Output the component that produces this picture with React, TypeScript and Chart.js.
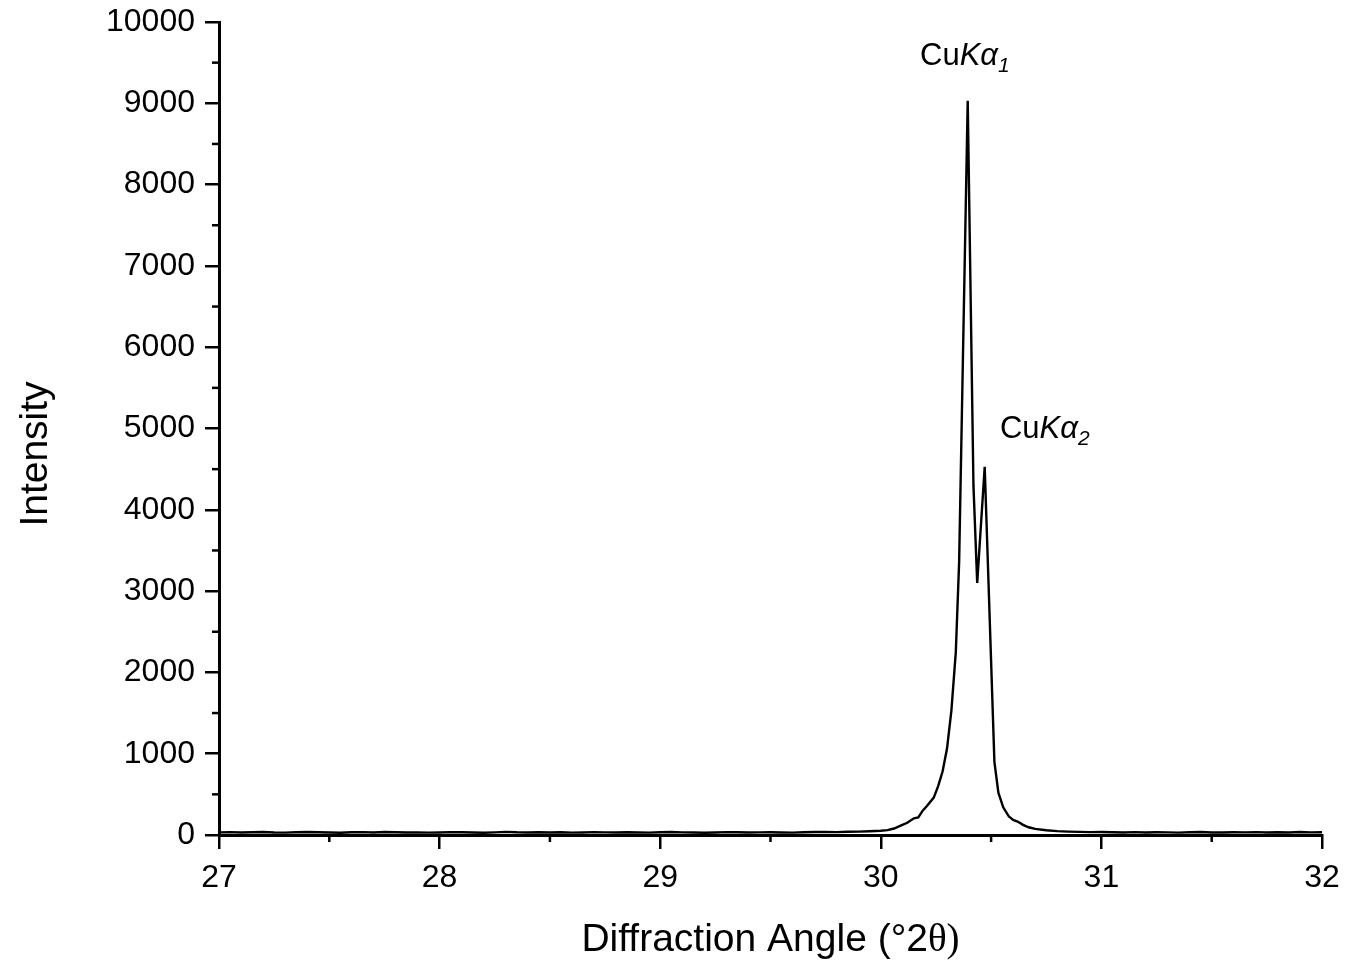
import React, { useEffect, useRef } from 'react';
import { Chart, registerables } from 'chart.js';

Chart.register(...registerables);

// Diffraction angle (°2θ) sample positions
const baselineAngles = [
  27.0, 27.05, 27.1, 27.15, 27.2, 27.25, 27.3, 27.35, 27.4, 27.45,
  27.5, 27.55, 27.6, 27.65, 27.7, 27.75, 27.8, 27.85, 27.9, 27.95,
  28.0, 28.05, 28.1, 28.15, 28.2, 28.25, 28.3, 28.35, 28.4, 28.45,
  28.5, 28.55, 28.6, 28.65, 28.7, 28.75, 28.8, 28.85, 28.9, 28.95,
  29.0, 29.05, 29.1, 29.15, 29.2, 29.25, 29.3, 29.35, 29.4, 29.45,
  29.5, 29.55, 29.6, 29.65, 29.7, 29.75, 29.8, 29.85, 29.9, 29.95,
];
const baselineCounts = [
  32, 35, 30, 33, 36, 31, 29, 34, 37, 33,
  30, 28, 33, 35, 31, 36, 34, 30, 32, 29,
  31, 35, 33, 30, 28, 32, 38, 33, 31, 34,
  30, 33, 29, 31, 35, 32, 30, 34, 31, 29,
  33, 36, 32, 30, 28, 31, 35, 33, 30, 32,
  34, 31, 29, 33, 36, 38, 35, 40, 42, 46,
];

const peakAngles = [
  30.0, 30.03, 30.06, 30.09, 30.12, 30.15, 30.17, 30.19, 30.21, 30.24,
  30.26, 30.28, 30.3, 30.32, 30.34, 30.355, 30.394, 30.42, 30.437, 30.471,
  30.515, 30.533, 30.555, 30.58, 30.6, 30.62, 30.645, 30.67, 30.7, 30.75,
  30.8, 30.85, 30.9, 30.95,
];
const peakCounts = [
  52, 60, 80, 115, 150, 205, 215, 300, 360, 460,
  600, 780, 1060, 1530, 2250, 3350, 9030, 4300, 3100, 4530,
  900, 520, 340, 230, 185, 165, 125, 95, 75, 58,
  48, 42, 38, 35,
];

const tailAngles = [
  31.0, 31.05, 31.1, 31.15, 31.2, 31.25, 31.3, 31.35, 31.4, 31.45,
  31.5, 31.55, 31.6, 31.65, 31.7, 31.75, 31.8, 31.85, 31.9, 31.95, 32.0,
];
const tailCounts = [
  36, 33, 31, 35, 30, 34, 32, 29, 33, 36,
  31, 30, 34, 32, 35, 30, 33, 31, 36, 32, 34,
];

const xMinorTicks = [27.5, 28.5, 29.5, 30.5, 31.5];
const yMinorTicks = [500, 1500, 2500, 3500, 4500, 5500, 6500, 7500, 8500, 9500];

// Peak labels: anchor (angle, intensity) and subscript
const labelAngles = [30.178, 30.54];
const labelCounts = [9470, 4880];
const labelSubs = ['1', '2'];

const SANS = '"Liberation Sans", Arial, sans-serif';
const SERIF = '"Liberation Serif", "Times New Roman", serif';

const zeroPad = (s: any) => {
  s.paddingLeft = 0;
  s.paddingRight = 0;
  s.paddingTop = 0;
  s.paddingBottom = 0;
};

const decorPlugin = {
  id: 'decor',
  afterDraw(chart: any) {
    const { ctx, chartArea } = chart;
    const x = chart.scales.x;
    const y = chart.scales.y;
    ctx.save();
    ctx.strokeStyle = '#000';
    ctx.lineWidth = 2.5;
    yMinorTicks.forEach((v) => {
      const py = y.getPixelForValue(v);
      ctx.beginPath();
      ctx.moveTo(chartArea.left - 7, py);
      ctx.lineTo(chartArea.left, py);
      ctx.stroke();
    });
    xMinorTicks.forEach((v) => {
      const px = x.getPixelForValue(v);
      ctx.beginPath();
      ctx.moveTo(px, chartArea.bottom);
      ctx.lineTo(px, chartArea.bottom + 7);
      ctx.stroke();
    });

    ctx.fillStyle = '#000';
    ctx.textBaseline = 'alphabetic';
    ctx.textAlign = 'left';
    labelAngles.forEach((a, i) => {
      let px = x.getPixelForValue(a);
      const py = y.getPixelForValue(labelCounts[i]);
      ctx.font = `31px ${SANS}`;
      ctx.fillText('Cu', px, py);
      px += ctx.measureText('Cu').width;
      ctx.font = `italic 31px ${SANS}`;
      ctx.fillText('Kα', px, py);
      px += ctx.measureText('Kα').width;
      ctx.font = `italic 21px ${SANS}`;
      ctx.fillText(labelSubs[i], px, py + 7);
    });

    // X axis title (mixed fonts)
    const part1 = 'Diffraction Angle (°2';
    const part2 = 'θ)';
    ctx.font = `39px ${SANS}`;
    const w1 = ctx.measureText(part1).width;
    ctx.font = `39px ${SERIF}`;
    const w2 = ctx.measureText(part2).width;
    const cx = (chartArea.left + chartArea.right) / 2;
    let sx = cx - (w1 + w2) / 2;
    ctx.font = `39px ${SANS}`;
    ctx.fillText(part1, sx, 951);
    sx += w1;
    ctx.font = `39px ${SERIF}`;
    ctx.fillText(part2, sx, 951);

    // Y axis title
    ctx.translate(47, 454);
    ctx.rotate(-Math.PI / 2);
    ctx.textAlign = 'center';
    ctx.font = `39px ${SANS}`;
    ctx.fillText('Intensity', 0, 0);
    ctx.restore();
  },
};

export default function App() {
  const canvasRef = useRef<HTMLCanvasElement | null>(null);

  useEffect(() => {
    if (!canvasRef.current) return;
    const angles = [...baselineAngles, ...peakAngles, ...tailAngles];
    const counts = [...baselineCounts, ...peakCounts, ...tailCounts];
    const points = angles.map((a, i) => ({ x: a, y: counts[i] }));

    const chart = new Chart(canvasRef.current, {
      type: 'line',
      data: {
        datasets: [
          {
            data: points,
            borderColor: '#000',
            borderWidth: 2.4,
            pointRadius: 0,
            tension: 0,
            fill: false,
          },
        ],
      },
      options: {
        animation: false,
        responsive: true,
        maintainAspectRatio: false,
        layout: { padding: { left: 0, top: 22, right: 23, bottom: 0 } },
        plugins: { legend: { display: false }, tooltip: { enabled: false } },
        scales: {
          x: {
            type: 'linear',
            min: 27,
            max: 32,
            ticks: {
              stepSize: 1,
              color: '#000',
              font: { size: 32, family: SANS, lineHeight: 1 },
              padding: 13,
              maxRotation: 0,
              callback: (v: any) => String(v),
            },
            grid: {
              drawOnChartArea: false,
              drawTicks: true,
              tickLength: 14,
              color: '#000',
              lineWidth: 2.5,
            },
            border: { display: true, color: '#000', width: 3 },
            afterFit: (s: any) => {
              s.height = 128;
              zeroPad(s);
            },
          },
          y: {
            type: 'linear',
            min: 0,
            max: 10000,
            ticks: {
              stepSize: 1000,
              color: '#000',
              font: { size: 32, family: SANS, lineHeight: 1 },
              padding: 10,
              callback: (v: any) => String(v),
            },
            grid: {
              drawOnChartArea: false,
              drawTicks: true,
              tickLength: 14,
              color: '#000',
              lineWidth: 2.5,
            },
            border: { display: true, color: '#000', width: 3 },
            afterFit: (s: any) => {
              s.width = 219;
              zeroPad(s);
            },
          },
        },
      },
      plugins: [decorPlugin],
    });
    return () => chart.destroy();
  }, []);

  return (
    <div style={{ position: 'absolute', left: 0, top: 0, width: 1345, height: 963, background: '#fff' }}>
      <canvas ref={canvasRef} />
    </div>
  );
}
